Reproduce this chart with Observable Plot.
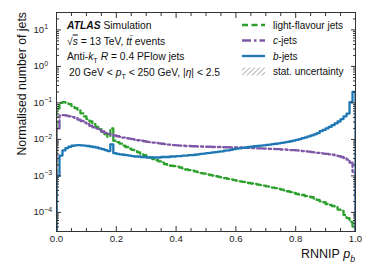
<!DOCTYPE html>
<html><head><meta charset="utf-8">
<script src="https://cdn.jsdelivr.net/npm/d3@7"></script>
<script src="https://cdn.jsdelivr.net/npm/@observablehq/plot@0.6"></script>
<style>
body{margin:0;background:#fff}
svg{font-family:"Liberation Sans",Arial,Helvetica,sans-serif}
</style>
</head><body><div id="chart"></div>
<script>
// ---- data (bin contents, 100 bins of width 0.01 on RNNIP p_b) ----
const binWidth = 0.01;
const lightJets = [
0.07,0.10,0.105,0.100,0.093,0.082,0.072,0.062,0.052,0.043,
0.036,0.031,0.026,0.022,0.019,0.016,0.014,0.0118,0.020,0.0092,
0.0084,0.0077,0.0068,0.0062,0.0056,0.0052,0.0048,0.0044,0.0040,0.0037,
0.0034,0.0032,0.0029,0.0027,0.0025,0.0023,0.0021,0.0020,0.0019,0.00185,
0.0018,0.0017,0.0016,0.0015,0.00145,0.0014,0.00133,0.00127,0.0012,0.00115,
0.0011,0.00106,0.00102,0.00098,0.00094,0.0009,0.00087,0.00083,0.0008,0.00077,
0.00074,0.00071,0.00069,0.00066,0.00064,0.00062,0.0006,0.00058,0.00056,0.00054,
0.00052,0.0005,0.00048,0.00046,0.00044,0.00042,0.0004,0.00038,0.00036,0.00034,
0.00032,0.00031,0.0003,0.00028,0.00027,0.00026,0.00024,0.00022,0.0002,0.00019,
0.00017,0.00016,0.00015,0.00014,0.00012,0.00011,0.000085,0.00007,0.000055,0.00004];
const cJets = [
0.02,0.045,0.046,0.045,0.043,0.041,0.038,0.035,0.032,0.029,
0.026,0.0235,0.0215,0.0198,0.018,0.0165,0.0152,0.0142,0.0135,0.0128,
0.0122,0.0117,0.0112,0.0108,0.0105,0.0102,0.0098,0.0095,0.0092,0.0089,
0.0086,0.0084,0.0082,0.008,0.0078,0.0076,0.0074,0.0072,0.0071,0.007,
0.0069,0.0068,0.0067,0.0066,0.0066,0.0065,0.0065,0.0064,0.0064,0.0063,
0.0063,0.0063,0.0062,0.0062,0.0062,0.0061,0.0061,0.0061,0.006,0.006,
0.006,0.006,0.0059,0.0059,0.0059,0.0058,0.0058,0.0057,0.0057,0.0056,
0.0056,0.0055,0.0055,0.0054,0.0054,0.0053,0.0053,0.0052,0.0051,0.0051,
0.005,0.0049,0.0048,0.0047,0.0046,0.0045,0.0044,0.0043,0.0042,0.0041,
0.004,0.0039,0.0038,0.0036,0.0035,0.0033,0.0031,0.0028,0.0023,0.0013];
const bJets = [
0.001,0.0036,0.005,0.0058,0.0063,0.0067,0.0069,0.007,0.0069,0.0068,
0.0066,0.0064,0.0062,0.006,0.0057,0.0054,0.0051,0.0048,0.0073,0.0042,
0.004,0.0039,0.0038,0.0037,0.0036,0.0035,0.0034,0.0034,0.0033,0.0033,
0.0032,0.0032,0.0032,0.0032,0.0032,0.0033,0.0033,0.0033,0.0034,0.0034,
0.0035,0.0035,0.0036,0.0036,0.0037,0.0037,0.0038,0.0039,0.004,0.0041,
0.0042,0.0043,0.0044,0.0045,0.0046,0.0047,0.0049,0.005,0.0052,0.0054,
0.0056,0.0057,0.0059,0.006,0.0062,0.0063,0.0065,0.0066,0.0068,0.0069,
0.0071,0.0072,0.0074,0.0076,0.0078,0.008,0.0083,0.0086,0.0089,0.0093,
0.0097,0.0102,0.0108,0.0114,0.0121,0.0129,0.0138,0.0148,0.0168,0.0182,
0.02,0.022,0.0245,0.0275,0.031,0.036,0.043,0.051,0.105,0.2];

const xTicks = [0, 0.2, 0.4, 0.6, 0.8, 1.0];
const yTicks = [1e-4, 1e-3, 1e-2, 1e-1, 1, 10];
const yDomain = [3e-5, 30];

const seriesNames = ["light-flavour jets", "c-jets", "b-jets"];
const colors = {"light": "#2ca02c", "c": "#7e57a6", "b": "#1f77b4"};

// minor ticks
const xMinor = d3.range(0, 21).map(i => i * 0.05).filter(v => !xTicks.some(t => Math.abs(t - v) < 1e-9));
const yMinor = [];
for (let e = -5; e <= 1; e++) for (let k = 2; k <= 9; k++) { const v = k * Math.pow(10, e); if (v >= yDomain[0] && v <= yDomain[1]) yMinor.push(v); }

function stepRows(vals) {
  const rows = [{x: 0, y: yDomain[0]}];
  vals.forEach((v, i) => rows.push({x: i * binWidth, y: v}));
  rows.push({x: vals.length * binWidth, y: vals[vals.length - 1]});
  rows.push({x: vals.length * binWidth, y: yDomain[0]});
  return rows;
}

const lineOpts = {x: "x", y: "y", curve: "step-after", strokeWidth: 2.3, clip: true};

const plot = Plot.plot({
  width: 374, height: 280,
  marginLeft: 56, marginRight: 19, marginTop: 12, marginBottom: 49,
  style: {fontFamily: '"Liberation Sans",Arial,sans-serif', fontSize: "9.6px", color: "#222"},
  x: {domain: [0, 1]},
  y: {type: "log", domain: yDomain},
  marks: [
    Plot.line(stepRows(lightJets), {...lineOpts, stroke: colors.light, strokeDasharray: "6,3.5"}),
    Plot.line(stepRows(cJets), {...lineOpts, stroke: colors.c, strokeDasharray: "9,3,2.5,3"}),
    Plot.line(stepRows(bJets), {...lineOpts, stroke: colors.b}),
    Plot.frame({stroke: "#333", strokeWidth: 1}),
    // inward ticks
    Plot.axisX({anchor: "bottom", ticks: xTicks, tickSize: 5, dy: -5, text: null, label: null, stroke: "#333"}),
    Plot.axisX({anchor: "top", ticks: xTicks, tickSize: 5, dy: 5, text: null, label: null, stroke: "#333"}),
    Plot.axisX({anchor: "bottom", ticks: xMinor, tickSize: 3, dy: -3, text: null, label: null, stroke: "#333"}),
    Plot.axisX({anchor: "top", ticks: xMinor, tickSize: 3, dy: 3, text: null, label: null, stroke: "#333"}),
    Plot.axisX({anchor: "bottom", ticks: xTicks, tickSize: 0, tickPadding: 4, tickFormat: d3.format(".1f"), label: null, fill: "#222"}),
    Plot.axisY({anchor: "left", ticks: yTicks, tickSize: 5, dx: 5, text: null, label: null, stroke: "#333"}),
    Plot.axisY({anchor: "right", ticks: yTicks, tickSize: 5, dx: -5, text: null, label: null, stroke: "#333"}),
    Plot.axisY({anchor: "left", ticks: yMinor, tickSize: 3, dx: 3, text: null, label: null, stroke: "#333"}),
    Plot.axisY({anchor: "right", ticks: yMinor, tickSize: 3, dx: -3, text: null, label: null, stroke: "#333"}),
    Plot.text(yTicks, {y: d => d, frameAnchor: "left", dx: -23, textAnchor: "start", lineAnchor: "middle",
      text: d => "10^" + Math.round(Math.log10(d)), fill: "#222", fontSize: 9.6})
  ]
});
document.getElementById("chart").appendChild(plot);

const svg = d3.select(plot);
// superscripts on y tick labels
svg.selectAll("text").each(function() {
  const t = this.textContent;
  const m = /^10\^(-?\d+)$/.exec(t);
  if (!m) return;
  const el = d3.select(this);
  el.selectAll("*").remove();
  el.text(null);
  el.append("tspan").text("10");
  el.append("tspan").attr("dy", "-0.5em").attr("font-size", "7px").text(m[1].replace("-", "\u2212"));
});

// rich text helper
function rich(x, y, parts, size, anchor) {
  const t = svg.append("text").attr("x", x).attr("y", y).attr("font-size", size)
    .attr("fill", "#111").attr("text-anchor", anchor || "start");
  let shift = 0;
  parts.forEach(p => {
    const s = t.append("tspan").text(p.t);
    if (p.i) s.attr("font-style", "italic");
    if (p.b) s.attr("font-weight", "bold");
    if (p.o) s.attr("text-decoration", "overline");
    const target = p.sub ? 0.3 * size : 0;
    if (target !== shift) { s.attr("dy", target - shift); shift = target; }
    if (p.sub) s.attr("font-size", size * 0.7);
  });
  return t;
}

// annotations
rich(67, 29, [{t: "ATLAS", b: true, i: true}, {t: " Simulation"}], 10.3);
rich(67, 44.5, [{t: "\u221A"}, {t: "s", i: true, o: true}, {t: " = 13 TeV, "}, {t: "tt\u0304", i: true}, {t: " events"}], 10.3);
rich(67, 60, [{t: "Anti-"}, {t: "k", i: true}, {t: "T", sub: true}, {t: " "}, {t: "R", i: true}, {t: " = 0.4 PFlow jets"}], 10.3);
rich(69, 75.5, [{t: "20 GeV < "}, {t: "p", i: true}, {t: "T", sub: true}, {t: " < 250 GeV, |"}, {t: "\u03B7", i: true}, {t: "| < 2.5"}], 10.3);

// legend
const defs = svg.append("defs");
const pat = defs.append("pattern").attr("id", "hatch").attr("patternUnits", "userSpaceOnUse")
  .attr("width", 3.5).attr("height", 3.5).attr("patternTransform", "rotate(45)");
pat.append("line").attr("x1", 0).attr("y1", 0).attr("x2", 0).attr("y2", 3.5).attr("stroke", "#666").attr("stroke-width", 1);

const legend = [
  {label: [{t: "light-flavour jets"}], color: colors.light, dash: "6,3.5"},
  {label: [{t: "c", i: true}, {t: "-jets"}], color: colors.c, dash: "9,3,2.5,3"},
  {label: [{t: "b", i: true}, {t: "-jets"}], color: colors.b, dash: null},
  {label: [{t: "stat. uncertainty"}], hatch: true}
];
const legY = [25, 40.5, 56, 71.5];
legend.forEach((d, i) => {
  const y = legY[i];
  if (d.hatch) {
    svg.append("rect").attr("x", 242).attr("y", y - 4).attr("width", 23).attr("height", 8).attr("fill", "url(#hatch)");
  } else {
    const l = svg.append("line").attr("x1", 242).attr("x2", 265).attr("y1", y).attr("y2", y)
      .attr("stroke", d.color).attr("stroke-width", 2.3);
    if (d.dash) l.attr("stroke-dasharray", d.dash);
  }
  rich(273, y + 3.6, d.label, 10);
});

// axis titles
rich(355, 258, [{t: "RNNIP "}, {t: "p", i: true}, {t: "b", i: true, sub: true}], 12.5, "end");
svg.append("text").attr("transform", "translate(26,12) rotate(-90)").attr("text-anchor", "end")
  .attr("font-size", 12.3).attr("fill", "#111").text("Normalised number of jets");
</script>
</body></html>
